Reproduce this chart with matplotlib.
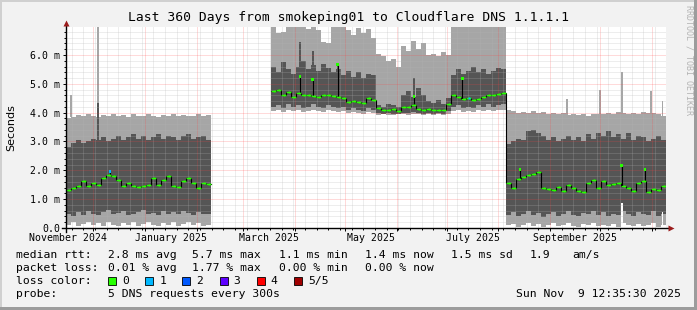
import numpy as np
import matplotlib
matplotlib.use("Agg")
import matplotlib.pyplot as plt
import matplotlib.dates as mdates
from matplotlib.ticker import MultipleLocator, FuncFormatter
from matplotlib.patches import Rectangle
from datetime import datetime, timedelta

nan = np.nan

start = datetime(2024, 11, 14, 12, 35, 30)
end = datetime(2025, 11, 9, 12, 35, 30)
step_days = 3

# no data from early Feb to mid March
gap = [nan] * 12

# median rtt in ms, one value per 3 days
median_rtt = ([1.33, 1.38, 1.47, 1.62, 1.47, 1.55, 1.50, 1.75, 1.85, 1.80,
               1.68, 1.47, 1.55, 1.45, 1.42, 1.45, 1.50, 1.75, 1.48, 1.68,
               1.82, 1.45, 1.42, 1.62, 1.75, 1.55, 1.38, 1.55, 1.52]
              + gap +
              [4.75, 4.80, 4.60, 4.72, 4.55, 4.68, 4.62, 4.60, 4.58, 4.55,
               4.60, 4.62, 4.58, 4.55, 4.50, 4.36, 4.40, 4.38, 4.34, 4.50,
               4.45, 4.17, 4.10, 4.08, 4.12, 4.05, 4.20, 4.18, 4.25, 4.12,
               4.10, 4.12, 4.08, 4.10, 4.08, 4.30, 4.60, 4.55, 4.48, 4.50,
               4.45, 4.48, 4.55, 4.60, 4.62, 4.65, 4.68]
              + [1.55, 1.40, 1.70, 1.78, 1.85, 1.88, 1.95, 1.40, 1.35, 1.32,
                 1.42, 1.30, 1.50, 1.40, 1.27, 1.25, 1.55, 1.68, 1.40, 1.62,
                 1.50, 1.52, 1.57, 1.45, 1.40, 1.28, 1.55, 1.62, 1.25, 1.35,
                 1.33, 1.45])

# slowest ping (outer smoke top)
ping_max = ([3.82, 3.85, 3.92, 3.88, 3.95, 3.90, 3.86, 3.93, 3.90, 3.97,
             3.88, 3.92, 3.85, 3.95, 3.90, 3.88, 3.94, 3.90, 3.86, 3.93,
             3.90, 3.96, 3.88, 3.92, 3.90, 3.87, 3.95, 3.90, 3.93]
            + gap +
            [7.2, 6.75, 6.8, 7.2, 7.2, 7.0, 7.2, 6.9, 7.2, 6.85,
             6.45, 6.4, 7.2, 7.0, 7.2, 6.85, 6.7, 6.95, 6.75, 6.9,
             6.6, 6.05, 5.95, 5.8, 5.85, 5.6, 6.3, 6.15, 6.5, 6.2,
             6.4, 6.0, 6.05, 5.95, 6.1, 6.0, 7.2, 7.2, 7.2, 7.2,
             7.2, 7.2, 7.2, 7.2, 7.2, 7.2, 7.2]
            + [4.10, 4.05, 4.00, 4.02, 3.98, 4.05, 4.00, 4.03, 3.97, 4.00,
               3.95, 3.98, 3.93, 3.96, 3.92, 3.95, 3.90, 3.94, 3.97, 3.95,
               4.00, 3.96, 4.02, 3.98, 3.95, 4.00, 3.97, 4.02, 3.98, 4.00,
               3.95, 3.90])

# 4th ping (inner smoke top)
ping_high = ([2.80, 2.95, 3.05, 2.95, 3.00, 3.10, 3.05, 3.15, 3.00, 3.10,
              3.20, 3.05, 3.15, 3.25, 3.10, 3.20, 3.05, 3.15, 3.25, 3.10,
              3.20, 3.15, 3.05, 3.20, 3.25, 3.10, 3.15, 3.20, 3.05]
             + gap +
             [5.6, 5.4, 5.75, 5.5, 5.35, 5.6, 5.8, 5.5, 5.65, 5.45,
              5.7, 5.55, 5.4, 5.5, 5.3, 5.45, 5.25, 5.4, 5.2, 5.35,
              5.3, 4.25, 4.2, 4.3, 4.25, 4.2, 4.6, 4.75, 4.55, 4.85,
              4.6, 4.4, 4.35, 4.45, 4.3, 4.5, 5.3, 5.5, 5.35, 5.45,
              5.6, 5.4, 5.5, 5.35, 5.45, 5.55, 5.5]
             + [2.90, 3.00, 3.10, 3.05, 3.35, 3.40, 3.30, 3.20, 3.05, 3.15,
                3.00, 3.10, 3.20, 3.05, 3.15, 3.00, 3.25, 3.10, 3.30, 3.20,
                3.35, 3.15, 3.25, 3.10, 3.30, 3.05, 3.20, 3.15, 3.00, 3.10,
                3.20, 3.05])

# 2nd ping (inner smoke bottom)
ping_low = ([0.50, 0.40, 0.55, 0.45, 0.60, 0.50, 0.45, 0.55, 0.62, 0.48,
             0.52, 0.58, 0.45, 0.50, 0.55, 0.62, 0.48, 0.52, 0.45, 0.58,
             0.50, 0.55, 0.48, 0.60, 0.52, 0.45, 0.55, 0.50, 0.48]
            + gap +
            [4.20, 4.25, 4.15, 4.30, 4.20, 4.25, 4.15, 4.20, 4.30, 4.20,
             4.15, 4.25, 4.20, 4.15, 4.20, 4.10, 4.15, 4.10, 4.05, 4.15,
             4.10, 3.98, 3.97, 3.98, 3.96, 3.97, 4.00, 3.98, 4.02, 3.98,
             3.97, 3.98, 3.96, 3.98, 3.97, 4.05, 4.20, 4.25, 4.15, 4.20,
             4.15, 4.25, 4.20, 4.30, 4.20, 4.25, 4.30]
            + [0.45, 0.55, 0.40, 0.50, 0.60, 0.45, 0.52, 0.38, 0.48, 0.55,
               0.42, 0.50, 0.58, 0.45, 0.40, 0.52, 0.48, 0.60, 0.45, 0.55,
               0.40, 0.50, 0.45, 0.58, 0.48, 0.42, 0.55, 0.50, 0.45, 0.60,
               0.40, 0.50])

# fastest ping (outer smoke bottom)
ping_min = ([0.12, 0.20, 0.08, 0.15, 0.22, 0.10, 0.18, 0.08, 0.20, 0.12,
             0.06, 0.18, 0.10, 0.22, 0.08, 0.15, 0.20, 0.10, 0.06, 0.18,
             0.12, 0.20, 0.08, 0.15, 0.22, 0.10, 0.18, 0.06, 0.12]
            + gap +
            [4.05, 4.08, 4.02, 4.10, 4.05, 4.08, 4.02, 4.05, 4.10, 4.04,
             4.02, 4.08, 4.05, 4.02, 4.06, 4.00, 4.03, 3.98, 3.96, 4.02,
             3.98, 3.93, 3.94, 3.93, 3.92, 3.94, 3.95, 3.93, 3.96, 3.94,
             3.93, 3.94, 3.92, 3.94, 3.93, 3.96, 4.05, 4.08, 4.02, 4.05,
             4.03, 4.08, 4.05, 4.10, 4.04, 4.08, 4.10]
            + [0.10, 0.15, 0.05, 0.12, 0.18, 0.08, 0.14, 0.05, 0.10, 0.16,
               0.06, 0.12, 0.18, 0.08, 0.05, 0.14, 0.10, 0.16, 0.06, 0.12,
               0.08, 0.15, 0.05, 0.18, 0.10, 0.06, 0.14, 0.08, 0.12, 0.16,
               0.05, 0.10])

# short outliers (days after start)
median_spike_day = [26.4, 140.4, 148.0, 163.0, 208.8, 237.8, 272.4, 333.4, 347.4]
median_spike_rtt = [1.97, 5.25, 5.15, 5.67, 4.57, 5.18, 2.03, 2.17, 2.03]
median_spike_loss = [1, 0, 0, 0, 0, 0, 0, 0, 0]
dark_spike_day = [19.2, 140.4, 148.0, 163.0, 208.8]
dark_spike_top = [4.35, 6.44, 6.14, 5.70, 5.20]
light_spike_day = [3.0, 19.2, 300.4, 320.4, 333.4, 351.0, 357.8]
light_spike_top = [4.6, 7.2, 4.46, 4.8, 5.4, 4.75, 4.4]
hole_day = [333.4, 357.8]
hole_top = [0.87, 0.57]
loss1_slots = [80]

month_labels = [(2024, 11), (2025, 1), (2025, 3), (2025, 5), (2025, 7), (2025, 9)]

loss_colors = ["#26ff00", "#00b8ff", "#0059ff", "#5e00ff", "#ff0000", "#a00000"]
loss_names = ["0", "1", "2", "3", "4", "5/5"]

title = "Last 360 Days from smokeping01 to Cloudflare DNS 1.1.1.1"
rtt_stats = ["2.8 ms avg", "5.7 ms max", "1.1 ms min", "1.4 ms now", "1.5 ms sd", "1.9", "am/s"]
loss_stats = ["0.01 % avg", "1.77 % max", "0.00 % min", "0.00 % now"]
probe_text = "5 DNS requests every 300s"
stamp = "Sun Nov  9 12:35:30 2025"

plt.rcParams['font.family'] = ['DejaVu Sans Mono']

W, H = 697, 310
bg = "#f2f2f2"
light = "#a6a6a6"
dark = "#555555"
green = loss_colors[0]

fig = plt.figure(figsize=(W / 100, H / 100), dpi=100, facecolor=bg)
ax = fig.add_axes([66 / W, (H - 228) / H, 600 / W, 201 / H])
ax.set_facecolor("white")

med = np.array(median_rtt)
p5 = np.array(ping_max)
p4 = np.array(ping_high)
p2 = np.array(ping_low)
p1 = np.array(ping_min)

t0 = mdates.date2num(start)
x0 = t0 + step_days * np.arange(len(med))
xc = x0 + step_days / 2
ok = ~np.isnan(med)

def slot(day):
    return int(day // step_days)

# smoke
ax.bar(x0[ok], (p5 - p1)[ok], bottom=p1[ok], width=step_days, align='edge',
       color=light, lw=0, antialiased=False, zorder=1)
ax.bar(t0 + np.array(light_spike_day),
       [top - p5[slot(d)] for d, top in zip(light_spike_day, light_spike_top)],
       bottom=[p5[slot(d)] for d in light_spike_day], width=1.0,
       color=light, lw=0, antialiased=False, zorder=1)
ax.bar(x0[ok], (p4 - p2)[ok], bottom=p2[ok], width=step_days, align='edge',
       color=dark, lw=0, antialiased=False, zorder=1.1)
ax.bar(t0 + np.array(dark_spike_day),
       [top - p4[slot(d)] for d, top in zip(dark_spike_day, dark_spike_top)],
       bottom=[p4[slot(d)] for d in dark_spike_day], width=1.0,
       color=dark, lw=0, antialiased=False, zorder=1.1)
ax.bar(t0 + np.array(hole_day), hole_top, width=1.0, color="white", lw=0,
       antialiased=False, zorder=1.2)

# median
ax.step(xc, med, where='mid', color="black", lw=0.8, zorder=3)
ax.hlines(med[ok], x0[ok], x0[ok] + step_days, colors=green, lw=0.9, zorder=4)
ax.plot(xc, med, ls='none', marker='s', ms=1.9, mec='none', color=green, zorder=5)
ax.plot(xc[loss1_slots], med[loss1_slots], ls='none', marker='s', ms=1.9,
        mec='none', color=loss_colors[1], zorder=5)
sx = t0 + np.array(median_spike_day)
base = [med[slot(d)] for d in median_spike_day]
ax.vlines(sx, base, median_spike_rtt, colors="black", lw=0.8, zorder=3)
ax.scatter(sx, median_spike_rtt, s=4, marker='s', lw=0,
           c=[loss_colors[l] for l in median_spike_loss], zorder=5)

# axes and grid
ax.set_xlim(t0, mdates.date2num(end))
ax.set_ylim(0, 6.97)
ax.xaxis.set_major_locator(mdates.MonthLocator())
ax.xaxis.set_minor_locator(mdates.WeekdayLocator(byweekday=mdates.MO))
ax.yaxis.set_major_locator(MultipleLocator(1.0))
ax.yaxis.set_minor_locator(MultipleLocator(0.2))
ax.yaxis.set_major_formatter(FuncFormatter(lambda v, _: "0.0" if v == 0 else f"{v:.1f} m"))
ax.tick_params(axis='x', which='both', labelbottom=False)
ax.tick_params(which='major', direction='out', length=2.5, width=0.7, color='black')
ax.tick_params(which='minor', direction='out', length=1.5, width=0.7, color='black')
ax.tick_params(axis='y', labelsize=7.1, pad=1.5)
ax.set_axisbelow(False)
ax.grid(which='minor', color='#b4b4b4', alpha=0.45, lw=0.72, ls=(0, (1, 1)))
ax.grid(which='major', color='#ff4040', alpha=0.38, lw=0.72, ls=(0, (1, 1)))
for s in ax.spines.values():
    s.set_visible(False)

ax.plot([-4 / 600, 1.005], [0, 0], color='black', lw=1.0, transform=ax.transAxes,
        clip_on=False, zorder=6)
ax.plot([0, 0], [-4 / 201, 1.01], color='black', lw=1.0, transform=ax.transAxes,
        clip_on=False, zorder=6)
ax.plot([1.009], [0], marker='>', ms=4.5, color='#9b1c1c', mec='none',
        transform=ax.transAxes, clip_on=False, zorder=6)
ax.plot([0], [1.022], marker='^', ms=4.5, color='#9b1c1c', mec='none',
        transform=ax.transAxes, clip_on=False, zorder=6)

for y, m in month_labels:
    nxt = datetime(y + m // 12, m % 12 + 1, 1)
    mid = (mdates.date2num(datetime(y, m, 1)) + mdates.date2num(nxt)) / 2
    ax.text(mid, -10 / 201, datetime(y, m, 1).strftime("%B %Y"), transform=ax.get_xaxis_transform(),
            ha='center', va='center', fontsize=7.1)

def ftext(x, y, s, **kw):
    kw.setdefault('fontsize', 8.2)
    kw.setdefault('va', 'center')
    kw.setdefault('ha', 'left')
    fig.text(x / W, 1 - y / H, s, **kw)

ftext(348, 18, title, ha='center', fontsize=9.4)
ftext(11, 128, "Seconds", ha='center', rotation=90, family='DejaVu Sans', fontsize=8)
ftext(689, 60, "RRDTOOL / TOBI OETIKER", ha='center', rotation=270,
      fontsize=6, color='#b4b4b4')

ftext(16, 255, "median rtt:")
for x, s in zip([108, 192, 279, 365, 451, 530, 572], rtt_stats):
    ftext(x, 255, s)
ftext(16, 268, "packet loss:")
for x, s in zip([108, 192, 279, 365], loss_stats):
    ftext(x, 268, s)
ftext(16, 281, "loss color:")
for i, (c, s) in enumerate(zip(loss_colors, loss_names)):
    x = 108 + i * 37.2
    fig.add_artist(Rectangle((x / W, 1 - 285 / H), 8 / W, 8 / H, transform=fig.transFigure,
                             facecolor=c, edgecolor='black', lw=0.6))
    ftext(x + 14, 281, s)
ftext(16, 294, "probe:")
ftext(108, 294, probe_text)
ftext(681, 294, stamp, ha='right')

# rrdtool style frame
fig.add_artist(Rectangle((0, 1 - 2 / H), 1, 2 / H, transform=fig.transFigure, color='#d0d0d0', lw=0))
fig.add_artist(Rectangle((0, 0), 2 / W, 1, transform=fig.transFigure, color='#d0d0d0', lw=0))
fig.add_artist(Rectangle((0, 0), 1, 3 / H, transform=fig.transFigure, color='#9c9c9c', lw=0))
fig.add_artist(Rectangle((1 - 3 / W, 0), 3 / W, 1, transform=fig.transFigure, color='#9c9c9c', lw=0))

fig.savefig("out.png", dpi=100, facecolor=fig.get_facecolor())
